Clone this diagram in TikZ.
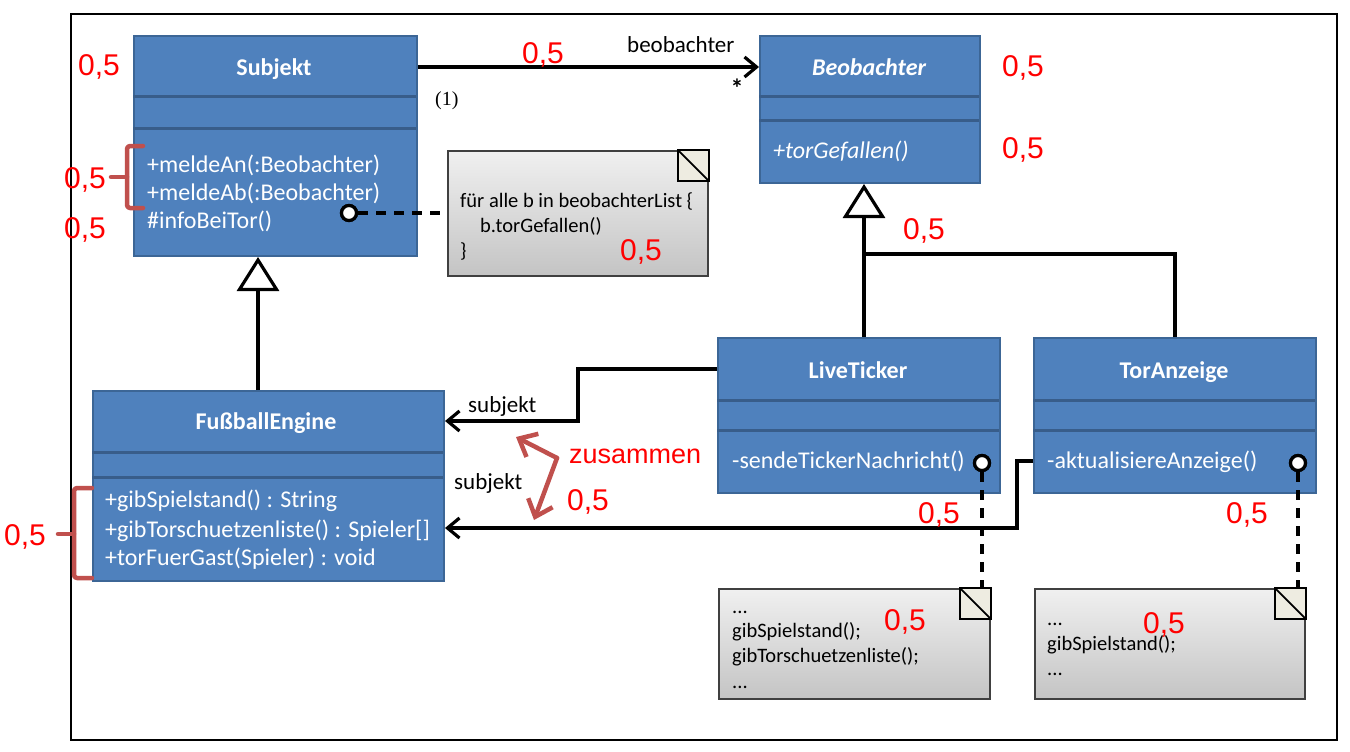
\documentclass[tikz,border=0pt]{standalone}
\usepackage{fontspec}
\setmainfont{Carlito}
\newfontfamily\arialfont{Liberation Sans}
\newfontfamily\timesfont{Liberation Serif}
\usetikzlibrary{arrows.meta,calc}
\definecolor{boxblue}{HTML}{4F81BD}
\definecolor{boxedge}{HTML}{3C6696}
\definecolor{boxdiv}{HTML}{385D8A}
\definecolor{bracered}{HTML}{C0504D}
\definecolor{foldfill}{HTML}{EEECE1}
\definecolor{notetop}{HTML}{F0F0F0}
\definecolor{notebot}{HTML}{C4C4C4}
\definecolor{noteedge}{HTML}{404040}
\tikzset{
  classbox/.style={draw=boxedge, fill=boxblue, line width=2pt, rectangle, inner sep=0pt, anchor=north west},
  divider/.style={draw=boxdiv, line width=3pt},
  ctitle/.style={text=white, font=\fontsize{24}{29}\selectfont\bfseries, inner sep=0pt, anchor=base},
  cmeth/.style={text=white, font=\fontsize{24}{29}\selectfont, inner sep=0pt, anchor=base west},
  notebox/.style={draw=noteedge, line width=1.8pt, top color=notetop, bottom color=notebot, rectangle, inner sep=0pt, anchor=north west},
  fold/.style={draw=black, line width=1.8pt, fill=foldfill},
  notetext/.style={text=black, font=\fontsize{20.5}{25}\selectfont, inner sep=0pt, anchor=base west},
  lbl/.style={text=black, font=\fontsize{23}{28}\selectfont, inner sep=0pt, anchor=base west},
  score/.style={text=red, font=\arialfont\fontsize{30}{34}\selectfont, inner sep=0pt, anchor=base},
  conn/.style={draw=black, line width=3.2pt},
  assoc/.style={conn, -{Straight Barb[length=12pt,width=20pt,line width=3.2pt]}},
  gen/.style={conn, -{Triangle[open,fill=white,length=34pt,width=42pt,line width=3.2pt]}},
  dashline/.style={draw=black, line width=3.2pt, dash pattern=on 10pt off 8pt},
  lolli/.style={circle, draw=black, fill=white, line width=3.2pt, minimum size=15pt, inner sep=0pt},
  bracestyle/.style={draw=bracered, line width=4.5pt, line join=round, line cap=round, rounded corners=3pt},
  zarrow/.style={draw=bracered, line width=4.5pt, line cap=round, -{Straight Barb[length=15pt,width=26pt,line width=4.5pt]}},
}
\begin{document}
\begin{tikzpicture}[x=1pt,y=-1pt]
\useasboundingbox (0,0) rectangle (1350,752);
\fill[white] (0,0) rectangle (1350,752);
\draw[line width=1.8pt] (71,14) rectangle (1337,740);

% ---------- classes ----------
\node[classbox, minimum width=283pt, minimum height=220pt] (subj) at (133,35) {};
\draw[divider] (133,97) -- (416,97);
\draw[divider] (133,128) -- (416,128);
\node[ctitle] (subjT) at (274,75) {Subjekt};
\node[cmeth] (subjM1) at (147,172) {+meldeAn(:Beobachter)};
\node[cmeth] (subjM2) at (147,200) {+meldeAb(:Beobachter)};
\node[cmeth] (subjM3) at (147,228) {\#infoBeiTor()};

\node[classbox, minimum width=220pt, minimum height=147pt] (beo) at (759,35) {};
\draw[divider] (759,97) -- (979,97);
\draw[divider] (759,120) -- (979,120);
\node[ctitle, font=\fontsize{24}{29}\selectfont\bfseries\itshape] (beoT) at (869,76) {Beobachter};
\node[cmeth, font=\fontsize{24}{29}\selectfont\itshape] (beoM) at (773,158) {+torGefallen()};

\node[classbox, minimum width=351pt, minimum height=190pt] (fe) at (92,390) {};
\draw[divider] (92,452) -- (443,452);
\draw[divider] (92,477) -- (443,477);
\node[ctitle] (feT) at (266,429) {Fußball\kern0ptEngine};
\node[cmeth] (feM1) at (105,507) {+gibSpielstand() : String};
\node[cmeth] (feM2) at (105,537) {+gibTorschuetzenliste() : Spieler[]};
\node[cmeth] (feM3) at (105,565) {+torFuerGast(Spieler) : void};

\node[classbox, minimum width=282pt, minimum height=155pt] (lt) at (717,337) {};
\draw[divider] (717,400) -- (999,400);
\draw[divider] (717,430) -- (999,430);
\node[ctitle] (ltT) at (858,378) {LiveTicker};
\node[cmeth] (ltM) at (732,468) {-sendeTickerNachricht()};

\node[classbox, minimum width=282pt, minimum height=155pt] (ta) at (1033,337) {};
\draw[divider] (1033,400) -- (1315,400);
\draw[divider] (1033,430) -- (1315,430);
\node[ctitle] (taT) at (1174,378) {TorAnzeige};
\node[cmeth] (taM) at (1047,468) {-aktualisiereAnzeige()};

% ---------- notes ----------
\node[notebox, minimum width=260pt, minimum height=125pt] (n1) at (447,150) {};
\filldraw[fold] ($(n1.north east)+(-31,0)$) rectangle ($(n1.north east)+(0,31)$);
\draw[line width=1.8pt] ($(n1.north east)+(-31,0)$) -- ($(n1.north east)+(0,31)$);
\node[notetext] (n1a) at (460,207) {für alle b in beobachterList \{};
\node[notetext] (n1b) at (480,232) {b.torGefallen()};
\node[notetext] (n1c) at (460,257) {\}};

\node[notebox, minimum width=271pt, minimum height=110pt] (n2) at (718,588) {};
\filldraw[fold] ($(n2.north east)+(-31,0)$) rectangle ($(n2.north east)+(0,31)$);
\draw[line width=1.8pt] ($(n2.north east)+(-31,0)$) -- ($(n2.north east)+(0,31)$);
\node[notetext] (n2a) at (732,613) {...};
\node[notetext] (n2b) at (732,637) {gibSpielstand();};
\node[notetext] (n2c) at (732,662) {gibTorschuetzenliste();};
\node[notetext] (n2d) at (732,688) {...};

\node[notebox, minimum width=270pt, minimum height=110pt] (n3) at (1034,588) {};
\filldraw[fold] ($(n3.north east)+(-31,0)$) rectangle ($(n3.north east)+(0,31)$);
\draw[line width=1.8pt] ($(n3.north east)+(-31,0)$) -- ($(n3.north east)+(0,31)$);
\node[notetext] (n3a) at (1047,625) {...};
\node[notetext] (n3b) at (1047,650) {gibSpielstand();};
\node[notetext] (n3c) at (1047,675) {...};

% ---------- lollipops and note links ----------
\node[lolli] (c1) at (349,213) {};
\node[lolli] (c2) at (982,463) {};
\node[lolli] (c3) at (1298,463) {};
\draw[dashline] (c1) -- (c1 -| n1.west);
\draw[dashline] (c2) -- (c2 |- n2.north);
\draw[dashline] (c3) -- (c3 |- n3.north);
\node[lolli] at (c1) {};
\node[lolli] at (c2) {};
\node[lolli] at (c3) {};

% ---------- associations ----------
\coordinate (aY) at (0,67);
\draw[assoc] (subj.east |- aY) -- (beo.west |- aY);
\node[lbl] (lblBeo) at (627,53) {beobachter};
\node[text=black, font=\fontsize{26}{30}\selectfont\bfseries, inner sep=0pt, anchor=base] (star) at (737,98) {*};
\node[text=black, font=\timesfont\fontsize{20}{24}\selectfont, inner sep=0pt, anchor=base west] (one) at (435,106) {(1)};

\coordinate (ltY) at (0,369);
\coordinate (feY1) at (0,421);
\coordinate (bend1) at (578,0);
\draw[assoc] (lt.west |- ltY) -| (bend1 |- feY1) -- (fe.east |- feY1);
\node[lbl] (lblS1) at (468,412) {subjekt};

\coordinate (taY) at (0,461);
\coordinate (feY2) at (0,528);
\coordinate (bend2) at (1017,0);
\draw[assoc] (ta.west |- taY) -| (bend2 |- feY2) -- (fe.east |- feY2);
\node[lbl] (lblS2) at (454,489) {subjekt};

% ---------- generalisations ----------
\coordinate (g1) at (258,0);
\draw[gen] (fe.north -| g1) -- (subj.south -| g1);
\coordinate (g2) at (864,0);
\coordinate (brY) at (0,254);
\draw[gen] (lt.north -| g2) -- (beo.south -| g2);
\draw[conn] (ta.north) |- (g2 |- brY);

% ---------- annotations ----------
\draw[bracestyle] (143,146) -- (127,146) -- (127,208) -- (143,208);
\draw[bracestyle] (127,177) -- (111,177);
\draw[bracestyle] (92,488) -- (74,488) -- (74,578) -- (92,578);
\draw[bracestyle] (74,534) -- (58,534);

\coordinate (zv) at (557,458);
\coordinate (zu) at (516,437);
\coordinate (zd) at (534,520);
\draw[zarrow] (zv) -- (zu);
\draw[zarrow] (zv) -- (zd);
\node[text=red, font=\arialfont\fontsize{27}{32}\selectfont, inner sep=0pt, anchor=base west] (zus) at (569,463) {zusammen};

\node[score] (s1) at (99,75) {0,5};
\node[score] (s2) at (85,188) {0,5};
\node[score] (s3) at (85,238) {0,5};
\node[score] (s4) at (543,64) {0,5};
\node[score] (s5) at (641,260) {0,5};
\node[score] (s6) at (1023,77) {0,5};
\node[score] (s7) at (1023,158) {0,5};
\node[score] (s8) at (924,239) {0,5};
\node[score] (s9) at (588,510) {0,5};
\node[score] (s10) at (25,545) {0,5};
\node[score] (s11) at (939,523) {0,5};
\node[score] (s12) at (1247,523) {0,5};
\node[score] (s13) at (905,630) {0,5};
\node[score] (s14) at (1164,633) {0,5};
\end{tikzpicture}
\end{document}
